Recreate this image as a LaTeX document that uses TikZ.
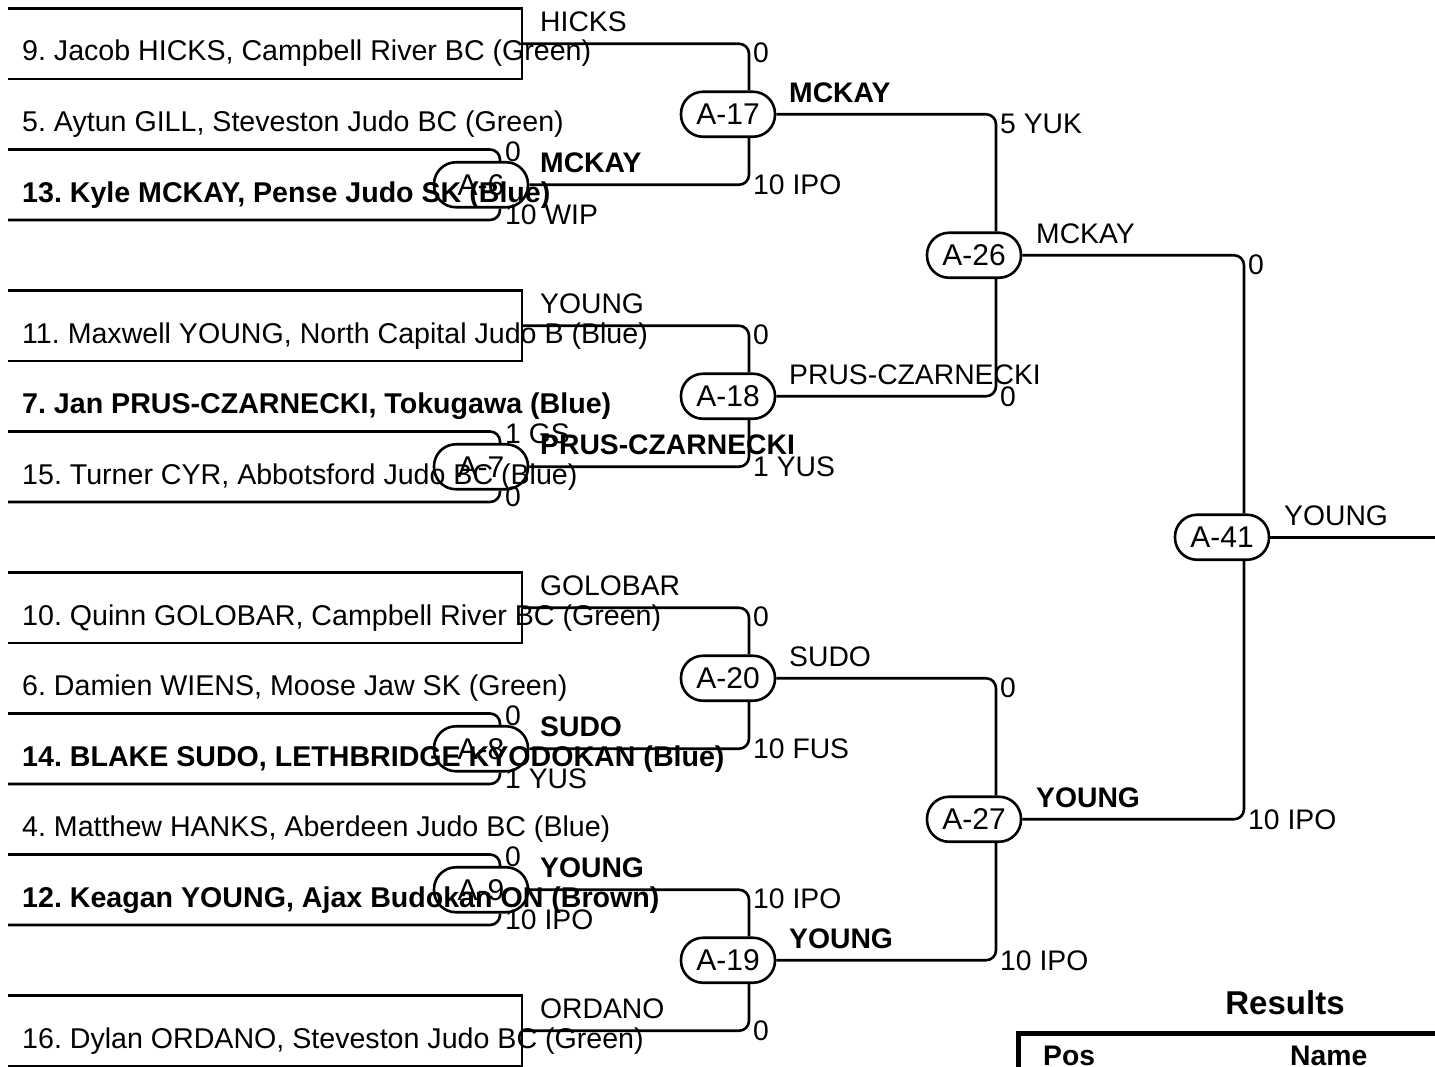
\documentclass[tikz,border=0pt]{standalone}
\usepackage{fontspec}
\setmainfont{Liberation Sans}
\frenchspacing
\newcommand\fsz{\fontsize{28.3}{32}\selectfont}
\newcommand\fnm{\fontsize{28.6}{33}\selectfont}
\newcommand\fnd{\fontsize{30}{34}\selectfont}
\begin{document}
\begin{tikzpicture}[x=1pt,y=-1pt,
  ln/.style={line width=2.6pt, rounded corners=10pt},
  bx/.style={line width=2.6pt},
  mnode/.style={draw, line width=2.6pt, rounded corners=22pt, minimum width=94pt, minimum height=45pt, inner sep=0pt, font=\fnd},
  nm/.style={anchor=base west, inner sep=0pt, font=\fsz},
  nmb/.style={anchor=base west, inner sep=0pt, font=\fsz\bfseries},
  cn/.style={anchor=base west, inner sep=0pt, font=\fnm},
  cnb/.style={anchor=base west, inner sep=0pt, font=\fnm\bfseries}]
\useasboundingbox (0,0) rectangle (1435,1066);
% columns
\coordinate (c1) at (500,0);
\coordinate (c2) at (749,0);
\coordinate (c3) at (996,0);
\coordinate (c4) at (1244,0);
% match nodes
\node[mnode] (a6) at (481,184.75) {A-6};
\node[mnode] (a7) at (481,466.75) {A-7};
\node[mnode] (a8) at (481,748.75) {A-8};
\node[mnode] (a9) at (481,889.75) {A-9};
\node[mnode] (a17) at (728,114.25) {A-17};
\node[mnode] (a18) at (728,396.25) {A-18};
\node[mnode] (a20) at (728,678.25) {A-20};
\node[mnode] (a19) at (728,960.25) {A-19};
\node[mnode] (a26) at (974,255.25) {A-26};
\node[mnode] (a27) at (974,819.25) {A-27};
\node[mnode] (a41) at (1222,537.25) {A-41};
\coordinate (fin) at (1435,537.25);
% bye boxes
\coordinate (b1) at (522,43.75);
\coordinate (b2) at (522,325.75);
\coordinate (b3) at (522,607.75);
\coordinate (b4) at (522,1030.75);
\draw[bx] (8,8.5) -| (522,79) -- (8,79);
\draw[bx] (8,290.5) -| (522,361) -- (8,361);
\draw[bx] (8,572.5) -| (522,643) -- (8,643);
\draw[bx] (8,995.5) -| (522,1066) -- (8,1066);
% round 1 match lines
\draw[ln] (8,149.5) -| (a6.north -| c1);
\draw[ln] (8,220) -| (a6.south -| c1);
\draw[ln] (8,431.5) -| (a7.north -| c1);
\draw[ln] (8,502) -| (a7.south -| c1);
\draw[ln] (8,713.5) -| (a8.north -| c1);
\draw[ln] (8,784) -| (a8.south -| c1);
\draw[ln] (8,854.5) -| (a9.north -| c1);
\draw[ln] (8,925) -| (a9.south -| c1);
% round 2 inputs
\draw[ln] (b1) -| (a17.north -| c2);
\draw[ln] (a6.east) -| (a17.south -| c2);
\draw[ln] (b2) -| (a18.north -| c2);
\draw[ln] (a7.east) -| (a18.south -| c2);
\draw[ln] (b3) -| (a20.north -| c2);
\draw[ln] (a8.east) -| (a20.south -| c2);
\draw[ln] (a9.east) -| (a19.north -| c2);
\draw[ln] (b4) -| (a19.south -| c2);
% round 3
\draw[ln] (a17.east) -| (a26.north -| c3);
\draw[ln] (a18.east) -| (a26.south -| c3);
\draw[ln] (a20.east) -| (a27.north -| c3);
\draw[ln] (a19.east) -| (a27.south -| c3);
% round 4
\draw[ln] (a26.east) -| (a41.north -| c4);
\draw[ln] (a27.east) -| (a41.south -| c4);
\draw[ln] (a41.east) -- (fin);
% competitor names
\node[cn] (n1) at (22,60.5) {9. Jacob HICKS, Campbell River BC (Green)};
\node[cn] (n2) at (22,131.5) {5. Aytun GILL, Steveston Judo BC (Green)};
\node[cnb] (n3) at (22,202) {13. Kyle MCKAY, Pense Judo SK (Blue)};
\node[cn] (n4) at (22,343) {11. Maxwell YOUNG, North Capital Judo B (Blue)};
\node[cnb] (n5) at (22,413.5) {7. Jan PRUS-CZARNECKI, Tokugawa (Blue)};
\node[cn] (n6) at (22,484) {15. Turner CYR, Abbotsford Judo BC (Blue)};
\node[cn] (n7) at (22,625) {10. Quinn GOLOBAR, Campbell River BC (Green)};
\node[cn] (n8) at (22,695.5) {6. Damien WIENS, Moose Jaw SK (Green)};
\node[cnb] (n9) at (22,766) {14. BLAKE SUDO, LETHBRIDGE KYODOKAN (Blue)};
\node[cn] (n10) at (22,836.5) {4. Matthew HANKS, Aberdeen Judo BC (Blue)};
\node[cnb] (n11) at (22,907) {12. Keagan YOUNG, Ajax Budokan ON (Brown)};
\node[cn] (n12) at (22,1048) {16. Dylan ORDANO, Steveston Judo BC (Green)};
% winner labels
\node[nm] (w1) at (540,31.75) {HICKS};
\node[nmb] (w2) at (540,172.75) {MCKAY};
\node[nm] (w3) at (540,313.75) {YOUNG};
\node[nmb] (w4) at (540,454.75) {PRUS-CZARNECKI};
\node[nm] (w5) at (540,595.75) {GOLOBAR};
\node[nmb] (w6) at (540,736.75) {SUDO};
\node[nmb] (w7) at (540,877.75) {YOUNG};
\node[nm] (w8) at (540,1018.75) {ORDANO};
\node[nmb] (w9) at (789,102.25) {MCKAY};
\node[nm] (w10) at (789,384.25) {PRUS-CZARNECKI};
\node[nm] (w11) at (789,666.25) {SUDO};
\node[nmb] (w12) at (789,948.25) {YOUNG};
\node[nm] (w13) at (1036,243.25) {MCKAY};
\node[nmb] (w14) at (1036,807.25) {YOUNG};
\node[nm] (w15) at (1284,525.25) {YOUNG};
% scores round 1
\node[nm] (s1) at (505,161.5) {0};
\node[nm] (s2) at (505,224) {10 WIP};
\node[nm] (s3) at (505,443.5) {1 GS};
\node[nm] (s4) at (505,506) {0};
\node[nm] (s5) at (505,725.5) {0};
\node[nm] (s6) at (505,788) {1 YUS};
\node[nm] (s7) at (505,866.5) {0};
\node[nm] (s8) at (505,929) {10 IPO};
% scores round 2
\node[nm] (s9) at (753,62.75) {0};
\node[nm] (s10) at (753,194.75) {10 IPO};
\node[nm] (s11) at (753,344.75) {0};
\node[nm] (s12) at (753,476.75) {1 YUS};
\node[nm] (s13) at (753,626.75) {0};
\node[nm] (s14) at (753,758.75) {10 FUS};
\node[nm] (s15) at (753,908.75) {10 IPO};
\node[nm] (s16) at (753,1040.75) {0};
% scores round 3
\node[nm] (s17) at (1000,133.25) {5 YUK};
\node[nm] (s18) at (1000,406.25) {0};
\node[nm] (s19) at (1000,697.25) {0};
\node[nm] (s20) at (1000,970.25) {10 IPO};
% scores round 4
\node[nm] (s21) at (1248,274.25) {0};
\node[nm] (s22) at (1248,829.25) {10 IPO};
% results
\node[font=\fontsize{33}{38}\selectfont\bfseries, inner sep=0pt] (res) at (1285,1003) {Results};
\coordinate (t1) at (1018,1070);
\coordinate (t2) at (1018,1033);
\coordinate (t3) at (1440,1033);
\draw[line width=5pt] (t1) -- (t2) -- (t3);
\node[nmb] (pos) at (1043,1065) {Pos};
\node[nmb] (nam) at (1290,1065) {Name};
\end{tikzpicture}
\end{document}
